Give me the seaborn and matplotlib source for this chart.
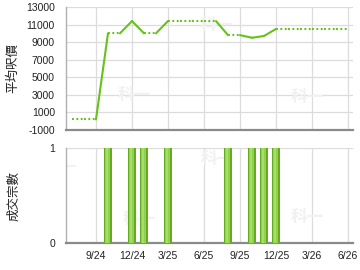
import matplotlib
matplotlib.use("Agg")
import matplotlib.pyplot as plt
import seaborn as sns
import numpy as np

# ---- data ----
months = ["2024-07", "2024-08", "2024-09", "2024-10", "2024-11", "2024-12",
          "2025-01", "2025-02", "2025-03", "2025-04", "2025-05", "2025-06",
          "2025-07", "2025-08", "2025-09", "2025-10", "2025-11", "2025-12",
          "2026-01", "2026-02", "2026-03", "2026-04", "2026-05", "2026-06"]
avg_price = [200, None, None, 10000, None, 11400,
             10000, None, 11400, None, None, None,
             None, 9800, None, 9500, 9700, 10500,
             None, None, None, None, None, None]
deals = [0, 0, 0, 1, 0, 1,
         1, 0, 1, 0, 0, 0,
         0, 1, 0, 1, 1, 1,
         0, 0, 0, 0, 0, 0]
tick_labels = ["9/24", "12/24", "3/25", "6/25", "9/25", "12/25", "3/26", "6/26"]
tick_months = ["2024-09", "2024-12", "2025-03", "2025-06", "2025-09", "2025-12", "2026-03", "2026-06"]
price_ticks = [-1000, 1000, 3000, 5000, 7000, 9000, 11000, 13000]

sns.set_style("white")
plt.rcParams['font.family'] = ['Liberation Sans', 'Noto Sans CJK TC', 'DejaVu Sans']

xpos = {m: i for i, m in enumerate(months)}
x = np.array([xpos[m] for m in months], dtype=float)
ticks_x = [xpos[m] for m in tick_months]

# forward fill
filled = []
last = None
for v in avg_price:
    if v is not None:
        last = v
    filled.append(last)

fig = plt.figure(figsize=(3.6, 2.7), dpi=100)
W, H = 360, 270
L, R = 66, 353
ax1 = fig.add_axes([L / W, 1 - 130 / H, (R - L) / W, 123 / H])
ax2 = fig.add_axes([L / W, 1 - 243 / H, (R - L) / W, 95 / H])

xmin, xmax = ticks_x[0] - 2.5, ticks_x[0] + 21.42
line_color = "#66c21a"
grid_c = "#dcdcdc"

for ax in (ax1, ax2):
    ax.set_xlim(xmin, xmax)
    ax.set_xticks(ticks_x)
    for sp in ("top", "right"):
        ax.spines[sp].set_visible(False)
    ax.spines["left"].set_color("#b0b0b0")
    ax.spines["left"].set_linewidth(1.0)
    ax.spines["bottom"].set_color("#8a8a8a")
    ax.spines["bottom"].set_linewidth(1.6)
    ax.grid(True, color=grid_c, linewidth=0.9)
    ax.set_axisbelow(True)
    ax.tick_params(axis="y", length=0, pad=8, labelsize=7.5, labelcolor="#222222")

# top panel
ax1.set_ylim(-1000, 13000)
ax1.set_yticks(price_ticks)
ax1.set_yticklabels([str(t) for t in price_ticks])
ax1.tick_params(axis="x", length=0, labelbottom=False)

for i in range(1, len(x)):
    actual = avg_price[i] is not None
    if actual:
        ax1.plot(x[i - 1:i + 1], filled[i - 1:i + 1], color=line_color,
                 lw=1.5, solid_capstyle="round", zorder=3)
    else:
        ax1.plot(x[i - 1:i + 1], filled[i - 1:i + 1], color=line_color,
                 lw=1.5, linestyle=(0, (0.9, 1.2)), zorder=3)

# bottom panel
ax2.set_ylim(0, 1)
ax2.set_yticks([0, 1])
ax2.set_yticklabels(["0", "1"])
ax2.set_xticklabels(tick_labels)
ax2.tick_params(axis="x", length=4, width=1, color="#8a8a8a", pad=2,
                labelsize=7.5, labelcolor="#222222")
ax2.bar(x, deals, width=0.68, color="#62ad1c", linewidth=0, zorder=3)
ax2.bar(x - 0.04, deals, width=0.4, color="#93cf52", linewidth=0, zorder=4)
ax2.bar(x - 0.1, deals, width=0.16, color="#a8da70", linewidth=0, zorder=5)

# watermarks
for ax, pts in ((ax1, [(3.8, 3000), (10.6, 11000), (18.2, 2700)]),
                (ax2, [(-2.4, 0.8), (4.2, 0.25), (10.7, 0.88), (18.2, 0.27)])):
    for (wx, wy) in pts:
        ax.text(wx, wy, "科一", fontsize=12, fontweight="bold", color="#f1f1f1",
                ha="left", va="center", zorder=1, clip_on=True,
                family=["Noto Sans CJK TC"])

fig.text(13 / W, 1 - 68 / H, "平均呎價", rotation=90, ha="center", va="center",
         fontsize=9, color="#222222", family=["Noto Sans CJK TC"])
fig.text(14 / W, 1 - 196 / H, "成交宗數", rotation=90, ha="center", va="center",
         fontsize=9, color="#222222", family=["Noto Sans CJK TC"])

fig.savefig("out.png", dpi=100)
